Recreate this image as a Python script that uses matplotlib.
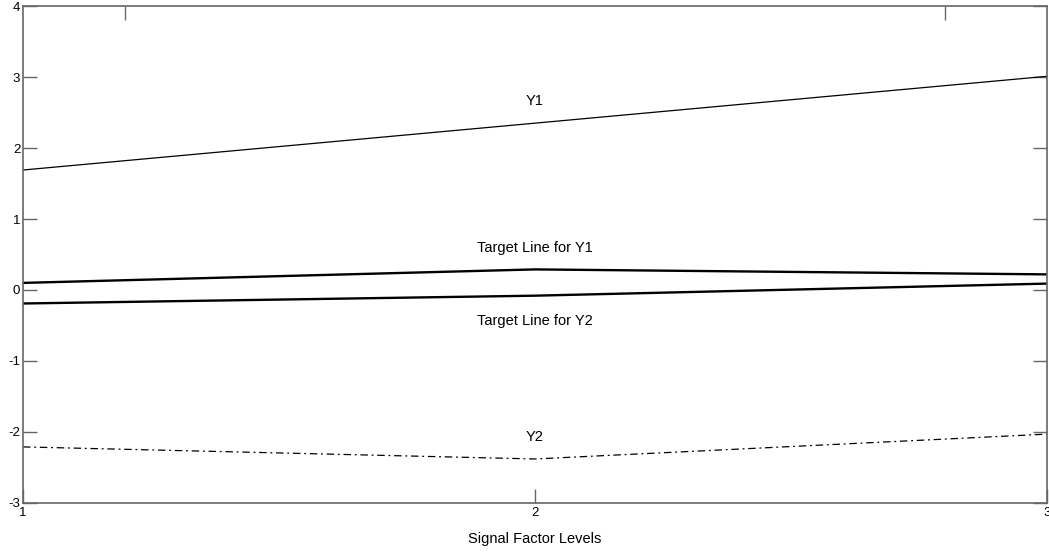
import matplotlib.pyplot as plt

# signal factor levels and responses
levels = [1, 2, 3]
y1 = [1.69, 2.35, 3.01]
y2 = [-2.21, -2.38, -2.03]
target_y1 = [0.10, 0.29, 0.22]
target_y2 = [-0.19, -0.08, 0.09]

plt.rcParams['font.family'] = ['Liberation Sans', 'DejaVu Sans']
plt.rcParams['axes.unicode_minus'] = False

fig = plt.figure(figsize=(10.49, 5.52), dpi=100)
ax = fig.add_axes([0.0219, 0.0888, 0.9762, 0.9003])

ax.plot(levels, y1, color='black', lw=0.9)
ax.plot(levels, target_y1, color='black', lw=1.7)
ax.plot(levels, target_y2, color='black', lw=1.7)
ax.plot(levels, y2, color='black', lw=0.9, dashes=[6, 3, 1.5, 3])

ax.text(2, 2.66, 'Y1', ha='center', va='center', fontsize=10.5)
ax.text(2, 0.59, 'Target Line for Y1', ha='center', va='center', fontsize=10.5)
ax.text(2, -0.44, 'Target Line for Y2', ha='center', va='center', fontsize=10.5)
ax.text(2, -2.07, 'Y2', ha='center', va='center', fontsize=10.5)

ax.set_xlim(1, 3)
ax.set_ylim(-3, 4)
ax.set_xticks([1, 2, 3])
ax.set_yticks(range(-3, 5))
ax.tick_params(direction='in', length=10, width=1, color='#666666',
               labelsize=9.5, right=True, pad=2)
ax.tick_params(axis='x', pad=3)
for s in ax.spines.values():
    s.set_color('#666666')
    s.set_linewidth(1.2)

top = ax.secondary_xaxis('top')
top.set_xticks([1.2, 2.8])
top.set_xticklabels([])
top.tick_params(direction='in', length=10, width=1, color='#666666')
top.spines['top'].set_visible(False)

ax.set_xlabel('Signal Factor Levels', fontsize=10.5, labelpad=9)

fig.savefig('out.png', dpi=100)
